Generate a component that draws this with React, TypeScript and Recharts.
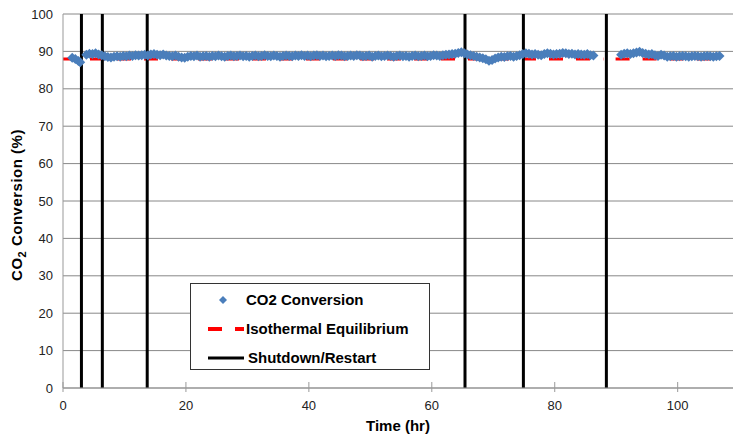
import {
  ComposedChart,
  CartesianGrid,
  Label,
  Line,
  ReferenceLine,
  Scatter,
  XAxis,
  YAxis,
} from "recharts";

// measured CO2 conversion, hr / %
const times = [
  1.5, 2, 2.5, 2.8,
  3.8, 4.3, 4.8, 5.3, 5.8, 6.3, 6.8, 7.3, 7.8, 8.3,
  8.8, 9.3, 9.8, 10.3, 10.8, 11.3, 11.8, 12.3, 12.8, 13.3,
  13.8, 14.3, 14.8, 15.3, 15.8, 16.3, 16.8, 17.3, 17.8, 18.3,
  18.8, 19.3, 19.8, 20.3, 20.8, 21.3, 21.8, 22.3, 22.8, 23.3,
  23.8, 24.3, 24.8, 25.3, 25.8, 26.3, 26.8, 27.3, 27.8, 28.3,
  28.8, 29.3, 29.8, 30.3, 30.8, 31.3, 31.8, 32.3, 32.8, 33.3,
  33.8, 34.3, 34.8, 35.3, 35.8, 36.3, 36.8, 37.3, 37.8, 38.3,
  38.8, 39.3, 39.8, 40.3, 40.8, 41.3, 41.8, 42.3, 42.8, 43.3,
  43.8, 44.3, 44.8, 45.3, 45.8, 46.3, 46.8, 47.3, 47.8, 48.3,
  48.8, 49.3, 49.8, 50.3, 50.8, 51.3, 51.8, 52.3, 52.8, 53.3,
  53.8, 54.3, 54.8, 55.3, 55.8, 56.3, 56.8, 57.3, 57.8, 58.3,
  58.8, 59.3, 59.8, 60.3, 60.8, 61.3, 61.8, 62.3, 62.8, 63.3,
  63.8, 64.3, 64.8, 65.3, 65.8, 66.3, 66.8, 67.3, 67.8, 68.3,
  68.8, 69.3, 69.8, 70.3, 70.8, 71.3, 71.8, 72.3, 72.8, 73.3,
  73.8, 74.3, 74.8, 75.3, 75.8, 76.3, 76.8, 77.3, 77.8, 78.3,
  78.8, 79.3, 79.8, 80.3, 80.8, 81.3, 81.8, 82.3, 82.8, 83.3,
  83.8, 84.3, 84.8, 85.3, 85.8, 86.3,
  90.8, 91.3, 91.8, 92.3, 92.8, 93.3, 93.8, 94.3, 94.8, 95.3,
  95.8, 96.3, 96.8, 97.3, 97.8, 98.3,
  98.8, 99.3, 99.8, 100.3, 100.8, 101.3, 101.8, 102.3, 102.8, 103.3,
  103.8, 104.3, 104.8, 105.3, 105.8, 106.3, 106.8,
];

const conversion = [
  88.3, 88.0, 87.4, 87.1,
  89.1, 89.4, 89.3, 89.5, 89.2, 89.0, 88.7, 88.5, 88.4, 88.6,
  88.7, 88.6, 88.8, 88.7, 88.9, 88.8, 89.0, 88.9, 89.0, 89.1,
  88.9, 89.2, 89.3, 89.1, 89.0, 89.2, 88.9, 88.8, 88.7, 88.9,
  88.6, 88.4, 88.3, 88.6, 88.8, 88.7, 88.9, 88.6, 88.7, 88.8,
  88.6, 88.8, 88.7, 88.9, 88.7, 88.6, 88.8, 88.9, 88.7, 88.8,
  88.9, 88.7, 88.8, 88.6, 88.8, 88.9, 88.7, 88.8, 89.0, 88.8,
  88.7, 88.9, 88.8, 88.6, 88.8, 88.9, 88.8, 88.7, 88.9, 88.8,
  89.0, 88.8, 88.9, 88.7, 88.9, 89.0, 88.8, 88.9, 88.7, 88.8,
  88.9, 88.8, 89.0, 88.9, 88.7, 88.8, 88.9, 88.8, 89.0, 88.9,
  88.7, 88.8, 88.9, 88.6, 88.8, 88.9, 88.7, 88.8, 88.9, 88.8,
  88.6, 88.8, 88.9, 88.7, 88.8, 88.6, 88.8, 88.9, 88.7, 88.8,
  88.9, 88.7, 88.8, 89.0, 88.9, 88.8, 89.0, 89.1, 89.2, 89.3,
  89.4, 89.6, 89.8, 89.5, 89.2, 89.0, 88.8, 88.6, 88.4, 88.2,
  87.9, 87.5, 87.7, 88.1, 88.4, 88.6, 88.5, 88.7, 88.8, 88.6,
  88.8, 89.0, 89.3, 89.5, 89.4, 89.2, 89.3, 89.1, 89.0, 89.3,
  89.5, 89.4, 89.2, 89.3, 89.4, 89.6, 89.5, 89.3, 89.4, 89.2,
  89.3, 89.2, 89.1, 89.3, 89.0, 88.9,
  89.1, 89.4, 89.5, 89.3, 89.5, 89.7, 89.9, 89.6, 89.4, 89.2,
  89.3, 89.0, 88.8, 89.1, 88.9, 88.6,
  88.7, 88.8, 88.6, 88.7, 88.8, 88.7, 88.6, 88.7, 88.8, 88.7,
  88.6, 88.7, 88.8, 88.7, 88.6, 88.7, 88.8,
];

// isothermal equilibrium, broken during the long shutdown
const eqTimes = [0, 87.9, 88.9, 89.9, 107];
const eqValues = [88, 88, null, 88, 88];

const shutdowns = [3.0, 6.4, 13.7, 65.4, 74.9, 88.4];

const xTicks = [0, 20, 40, 60, 80, 100];
const yTicks = [0, 10, 20, 30, 40, 50, 60, 70, 80, 90, 100];

const scatterData = times.map((t, i) => ({ time: t, co2: conversion[i] }));
const eqData = eqTimes.map((t, i) => ({ time: t, eq: eqValues[i] }));

const FONT = '"Liberation Sans", Arial, sans-serif';
const BLUE = "#4a7ebb";

const Diamond = (props: any) => {
  const { cx, cy } = props;
  const r = 5;
  return (
    <path
      d={`M${cx},${cy - r}L${cx + r},${cy}L${cx},${cy + r}L${cx - r},${cy}Z`}
      fill={BLUE}
    />
  );
};

const XTick = (props: any) => {
  const { x, y, payload } = props;
  return (
    <g>
      <line x1={x} x2={x} y1={y - 6} y2={y + 4} stroke="#999" />
      <text x={x} y={y + 22} textAnchor="middle" fontSize={13} fill="#222" fontFamily={FONT}>
        {payload.value}
      </text>
    </g>
  );
};

const YLabel = (props: any) => {
  const { viewBox } = props;
  const cx = 22;
  const cy = viewBox.y + viewBox.height / 2 + 4;
  return (
    <text
      x={cx}
      y={cy}
      transform={`rotate(-90 ${cx} ${cy})`}
      textAnchor="middle"
      fontSize={15}
      fontWeight="bold"
      letterSpacing={0.5}
      fill="#000"
      fontFamily={FONT}
    >
      CO
      <tspan fontSize={11} dy={4}>2</tspan>
      <tspan dy={-4}> Conversion (%)</tspan>
    </text>
  );
};

const ChartLegend = () => (
  <div
    style={{
      position: "absolute",
      left: 190,
      top: 283,
      width: 240,
      height: 87,
      border: "1px solid #333",
      background: "#fff",
      boxSizing: "border-box",
    }}
  >
    <svg width={240} height={87} style={{ position: "absolute", left: 0, top: 0 }}>
      <path d="M32,12L36,16L32,20L28,16Z" fill={BLUE} />
      <text x={55} y={21} fontSize={15} fontWeight="bold" fontFamily={FONT}>
        CO2 Conversion
      </text>
      <line x1={17} x2={53} y1={45} y2={45} stroke="#ff0000" strokeWidth={4} strokeDasharray="14 13" />
      <text x={55} y={50} fontSize={15} fontWeight="bold" fontFamily={FONT}>
        Isothermal Equilibrium
      </text>
      <line x1={17} x2={53} y1={74} y2={74} stroke="#000" strokeWidth={3} />
      <text x={57} y={79} fontSize={15} fontWeight="bold" fontFamily={FONT}>
        Shutdown/Restart
      </text>
    </svg>
  </div>
);

export default function App() {
  return (
    <div style={{ position: "absolute", left: 0, top: 0, width: 733, height: 435, background: "#fff" }}>
      <ComposedChart
        width={733}
        height={435}
        margin={{ top: 14, right: 0, bottom: 0, left: 0 }}
      >
        <CartesianGrid vertical={false} stroke="#888" />
        <XAxis
          dataKey="time"
          type="number"
          domain={[0, 109]}
          ticks={xTicks}
          height={47}
          stroke="#999"
          tickLine={false}
          tickSize={0}
          tickMargin={0}
          tick={<XTick />}
          allowDataOverflow
        >
          <Label
            value="Time (hr)"
            position="insideBottom"
            offset={4}
            style={{ fontSize: 15, fontWeight: "bold", fill: "#000", fontFamily: FONT }}
          />
        </XAxis>
        <YAxis
          type="number"
          domain={[0, 100]}
          ticks={yTicks}
          width={63}
          stroke="#999"
          tickLine={false}
          tickSize={0}
          tickMargin={10}
          tick={{ fontSize: 13, fill: "#222", fontFamily: FONT }}
          allowDataOverflow
        >
          <Label content={<YLabel />} />
        </YAxis>
        <Line
          data={eqData}
          dataKey="eq"
          stroke="#ff0000"
          strokeWidth={3}
          strokeDasharray="14 13"
          dot={false}
          connectNulls={false}
          isAnimationActive={false}
        />
        <Scatter data={scatterData} dataKey="co2" shape={<Diamond />} isAnimationActive={false} />
        {shutdowns.map((s) => (
          <ReferenceLine key={s} x={s} stroke="#000" strokeWidth={3} />
        ))}
      </ComposedChart>
      <ChartLegend />
    </div>
  );
}
